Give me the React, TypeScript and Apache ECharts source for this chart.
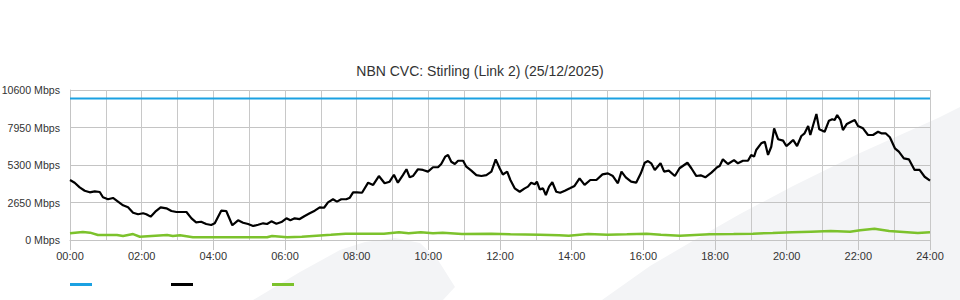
import React, { useEffect, useRef } from "react";
import * as echarts from "echarts";

const titleText = "NBN CVC: Stirling (Link 2) (25/12/2025)";
const hourTicks = [0, 2, 4, 6, 8, 10, 12, 14, 16, 18, 20, 22, 24];
const seriesNames = ["Capacity", "Download", "Upload"];
const seriesColors = ["#1ba1e2", "#000000", "#7cc22c"];

const capacityHours = [0, 24];
const capacityMbps = [10000, 10000];

const downHours = [
  0, 0.13, 0.27, 0.41, 0.55, 0.69, 0.83, 0.92, 1.06, 1.2, 1.34, 1.48, 1.62, 1.76, 1.9, 2.04, 2.13, 2.25, 2.38, 2.53,
  2.69, 2.83, 2.97, 3.11, 3.25, 3.39, 3.52, 3.66, 3.8, 3.94, 4.04, 4.22, 4.36, 4.53, 4.69, 4.83, 4.97, 5.11, 5.25, 5.39,
  5.5, 5.62, 5.76, 5.9, 6.04, 6.15, 6.27, 6.41, 6.55, 6.69, 6.83, 6.97, 7.09, 7.2, 7.34, 7.45, 7.57, 7.71, 7.81, 7.9,
  8.01, 8.15, 8.32, 8.46, 8.62, 8.78, 8.92, 9.04, 9.15, 9.29, 9.39, 9.48, 9.57, 9.71, 9.85, 9.99, 10.13, 10.27, 10.36, 10.47,
  10.55, 10.64, 10.74, 10.83, 10.97, 11.06, 11.2, 11.34, 11.48, 11.62, 11.76, 11.88, 11.99, 12.08, 12.2, 12.29, 12.41, 12.55, 12.69, 12.78,
  12.87, 12.97, 13.03, 13.11, 13.2, 13.28, 13.37, 13.46, 13.57, 13.68, 13.81, 13.95, 14.08, 14.22, 14.36, 14.52, 14.69, 14.86, 15.01, 15.15,
  15.29, 15.39, 15.51, 15.66, 15.8, 15.93, 16.04, 16.13, 16.22, 16.32, 16.48, 16.58, 16.71, 16.88, 17.01, 17.23, 17.34, 17.48, 17.6, 17.73,
  17.9, 18.06, 18.13, 18.22, 18.36, 18.53, 18.64, 18.78, 18.92, 19.01, 19.09, 19.15, 19.29, 19.39, 19.48, 19.57, 19.65, 19.76, 19.9, 19.99,
  20.08, 20.18, 20.29, 20.41, 20.5, 20.6, 20.66, 20.74, 20.83, 20.91, 21.06, 21.18, 21.27, 21.34, 21.41, 21.5, 21.57, 21.68, 21.8, 21.9,
  21.99, 22.13, 22.27, 22.41, 22.55, 22.64, 22.76, 22.88, 23.02, 23.13, 23.27, 23.41, 23.57, 23.71, 23.85, 24
];
const downMbps = [
  4240, 4050, 3720, 3480, 3370, 3440, 3390, 3020, 2880, 2970, 2710, 2450, 2310, 1930, 1820, 1890, 1820, 1650, 2000, 2310,
  2240, 2050, 1980, 1980, 1980, 1530, 1250, 1290, 1130, 1060, 1180, 2070, 2050, 1040, 1390, 1220, 1130, 990, 1080, 1180,
  1130, 1320, 1150, 1270, 1530, 1390, 1530, 1480, 1700, 1890, 2070, 2310, 2280, 2660, 2880, 2710, 2880, 2880, 2990, 3370,
  3370, 3340, 4050, 3890, 4520, 4010, 4120, 4610, 4050, 4590, 5000, 4430, 4520, 5000, 4950, 4830, 5140, 5140, 5370, 5890,
  6010, 5530, 5370, 5600, 5600, 5180, 4900, 4590, 4520, 4590, 4830, 5700, 5070, 4630, 4830, 4240, 3650, 3410, 3650, 3770,
  4050, 3940, 4120, 3580, 3650, 3180, 3770, 4080, 3410, 3340, 3480, 3650, 3820, 4360, 3890, 4240, 4240, 4640, 4710, 4520,
  4010, 4830, 4430, 4120, 4050, 4710, 5460, 5580, 5420, 4950, 5420, 4830, 4900, 4520, 5070, 5460, 5070, 4520, 4570, 4430,
  4760, 5140, 5230, 5700, 5370, 5650, 5420, 5600, 5600, 6010, 5890, 6360, 6830, 6950, 6010, 6590, 7890, 7120, 7020, 6640,
  6830, 7070, 6640, 7350, 7540, 8060, 7420, 8130, 8900, 7820, 7650, 8430, 8530, 8480, 8830, 8480, 7770, 8200, 8360, 8480,
  8060, 7890, 7420, 7420, 7650, 7540, 7540, 7260, 6480, 6240, 5770, 5700, 4950, 4950, 4470, 4190
];

const upHours = [
  0, 0.36, 0.56, 0.78, 1.31, 1.48, 1.76, 1.95, 2.71, 2.87, 3.07, 3.43, 5.5, 5.64, 6.06, 6.47, 6.88, 7.28, 7.69, 8.76,
  9.18, 9.45, 9.79, 10.13, 10.4, 10.94, 11.75, 12.29, 13.11, 13.65, 13.92, 14.46, 15.0, 15.54, 16.09, 16.49, 17.02, 17.85, 18.52, 19.06,
  19.61, 20.15, 20.68, 21.23, 21.77, 22.05, 22.45, 22.86, 23.26, 23.66, 24
];
const upMbps = [
  470, 570, 520, 350, 350, 280, 420, 230, 350, 280, 330, 190, 190, 280, 190, 230, 300, 370, 450, 450,
  540, 470, 540, 470, 520, 420, 450, 400, 370, 330, 300, 420, 370, 400, 450, 370, 300, 400, 420, 450,
  490, 540, 590, 640, 590, 690, 800, 640, 570, 490, 540
];

const zip = (xs: number[], ys: number[]) => xs.map((x, i) => [x, ys[i]]);

const pad2 = (n: number) => (n < 10 ? "0" + n : "" + n);

export default function App() {
  const ref = useRef<HTMLDivElement>(null);

  useEffect(() => {
    if (!ref.current) return;
    const chart = echarts.init(ref.current, undefined, { renderer: "svg" });
    const font = "Liberation Sans, Arial, sans-serif";
    const wm = "#f3f4f6";
    chart.setOption({
      animation: false,
      textStyle: { fontFamily: font },
      title: {
        text: titleText,
        left: "center",
        top: 64,
        padding: 0,
        textStyle: { fontSize: 14, fontWeight: "normal", color: "#333", fontFamily: font },
      },
      graphic: [
        {
          type: "polygon",
          z: -10,
          silent: true,
          shape: {
            points: [
              [253, 300], [300, 272], [340, 250], [365, 242], [395, 238], [420, 243], [438, 260], [455, 287], [443, 300],
            ],
          },
          style: { fill: wm },
        },
        {
          type: "polygon",
          z: -10,
          silent: true,
          shape: {
            points: [
              [602, 300], [650, 266], [691, 242], [740, 214], [793, 186], [860, 153], [938, 118], [960, 107], [960, 300],
            ],
          },
          style: { fill: wm },
        },
      ],
      legend: {
        left: 70,
        top: 283,
        padding: 0,
        icon: "rect",
        itemWidth: 22,
        itemHeight: 3,
        itemGap: 79,
        formatter: () => "",
        data: seriesNames,
        textStyle: { fontSize: 1 },
      },
      grid: { left: 70, right: 30, top: 90, bottom: 60, containLabel: false, outerBoundsMode: "none" },
      xAxis: {
        type: "value",
        min: 0,
        max: 24,
        interval: 2,
        axisLine: { show: true, lineStyle: { color: "#c4c4c4", width: 1 } },
        axisTick: { show: true, length: 10, lineStyle: { color: "#c4c4c4" } },
        axisLabel: {
          margin: 10,
          fontSize: 11,
          color: "#333",
          fontFamily: font,
          formatter: (v: number) => (hourTicks.indexOf(v) >= 0 ? pad2(v) + ":00" : ""),
        },
        splitLine: { show: true, lineStyle: { color: "#c8c8c8", width: 1 } },
        minorTick: { show: false, splitNumber: 2 },
        minorSplitLine: { show: true, lineStyle: { color: "#c8c8c8", width: 1 } },
      },
      yAxis: {
        type: "value",
        min: 0,
        max: 10600,
        interval: 2650,
        axisLine: { show: true, lineStyle: { color: "#c4c4c4" } },
        axisTick: { show: false },
        axisLabel: {
          margin: 10,
          fontSize: 10.6,
          color: "#333",
          fontFamily: font,
          padding: [0, 0, 4, 0],
          formatter: (v: number) => v + " Mbps",
        },
        splitLine: { show: true, lineStyle: { color: "#c4c4c4", width: 1 } },
      },
      series: [
        {
          name: seriesNames[0],
          type: "line",
          data: zip(capacityHours, capacityMbps),
          showSymbol: false,
          symbol: "none",
          lineStyle: { color: seriesColors[0], width: 2 },
          itemStyle: { color: seriesColors[0] },
          z: 3,
        },
        {
          name: seriesNames[1],
          type: "line",
          data: zip(downHours, downMbps),
          showSymbol: false,
          symbol: "none",
          lineStyle: { color: seriesColors[1], width: 2.2 },
          itemStyle: { color: seriesColors[1] },
          z: 4,
        },
        {
          name: seriesNames[2],
          type: "line",
          data: zip(upHours, upMbps),
          showSymbol: false,
          symbol: "none",
          lineStyle: { color: seriesColors[2], width: 2.5 },
          itemStyle: { color: seriesColors[2] },
          z: 3,
        },
      ],
    });
    return () => chart.dispose();
  }, []);

  return (
    <div
      ref={ref}
      style={{ position: "fixed", left: 0, top: 0, width: 960, height: 300, background: "#fff" }}
    />
  );
}
